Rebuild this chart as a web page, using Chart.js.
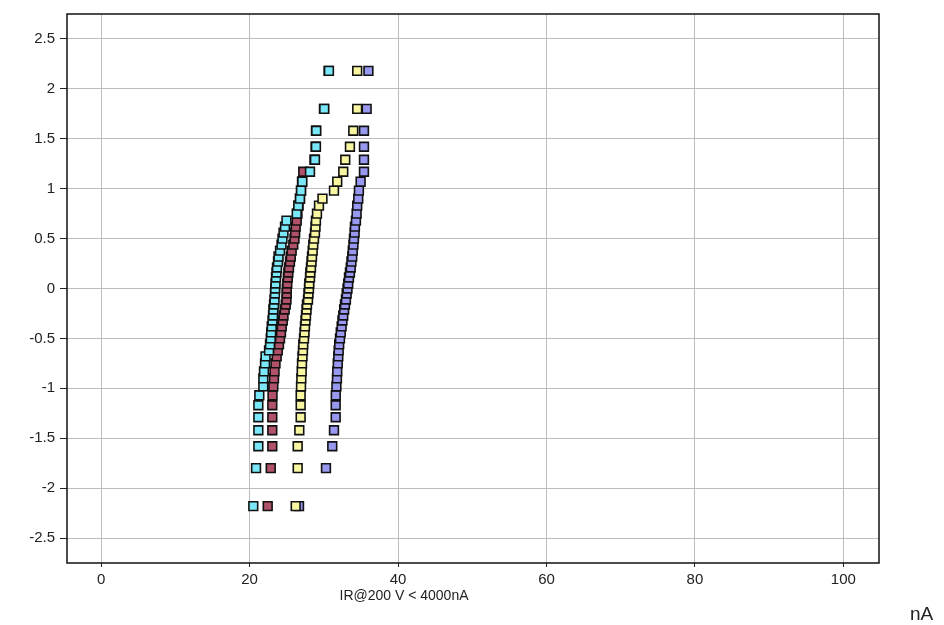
<!DOCTYPE html>
<html>
<head>
<meta charset="utf-8">
<title>IR@200 V probability plot</title>
<script src="https://cdn.jsdelivr.net/npm/chart.js@4.4.1/dist/chart.umd.min.js"></script>
<style>
  html, body { margin: 0; padding: 0; background: #fff; }
  #wrap { width: 944px; height: 625px; }
</style>
</head>
<body>
<div id="wrap"><canvas id="irChart" width="944" height="625"></canvas></div>
<script>
// normal score of each rank (47 parts per lot), shared by all lots
const zScores = [
    -2.18, -1.80, -1.58, -1.42, -1.29, -1.17, -1.07, -0.98, -0.90, -0.83,
    -0.75, -0.68, -0.62, -0.56, -0.50, -0.44, -0.38, -0.32, -0.27, -0.21,
    -0.16, -0.11, -0.05, 0.00, 0.05, 0.11, 0.16, 0.21, 0.27, 0.32,
    0.38, 0.44, 0.50, 0.56, 0.62, 0.68, 0.75, 0.83, 0.90, 0.98,
    1.07, 1.17, 1.29, 1.42, 1.58, 1.80, 2.18
];

// leakage current (nA), sorted, one list per lot
const lotCyan = [
    20.50, 20.87, 21.18, 21.18, 21.18, 21.18, 21.31, 21.85, 21.85, 21.94,
    22.08, 22.15, 22.62, 22.75, 22.85, 22.91, 22.98, 23.09, 23.16, 23.20,
    23.29, 23.36, 23.42, 23.45, 23.49, 23.56, 23.62, 23.69, 23.83, 23.90,
    24.10, 24.30, 24.43, 24.57, 24.77, 24.97, 26.35, 26.56, 26.79, 26.93,
    27.10, 28.14, 28.81, 28.94, 28.98, 30.06, 30.69
];
const lotMaroon = [
    22.44, 22.85, 23.06, 23.06, 23.06, 23.06, 23.09, 23.20, 23.29, 23.36,
    23.49, 23.65, 23.80, 23.96, 24.10, 24.23, 24.33, 24.47, 24.57, 24.73,
    24.87, 24.97, 25.00, 25.01, 25.08, 25.15, 25.22, 25.31, 25.44, 25.55,
    25.67, 25.89, 26.05, 26.14, 26.21, 26.35, 26.45, 26.59, 26.79, 26.93,
    27.06, 27.23, 28.74, 28.90, 28.94, 30.02, 30.65
];
const lotYellow = [
    26.21, 26.48, 26.48, 26.70, 26.88, 26.88, 26.88, 26.93, 26.97, 27.02,
    27.06, 27.13, 27.19, 27.23, 27.33, 27.40, 27.46, 27.53, 27.60, 27.67,
    27.73, 27.87, 27.93, 28.00, 28.04, 28.14, 28.18, 28.27, 28.34, 28.41,
    28.50, 28.58, 28.68, 28.81, 28.88, 28.94, 29.08, 29.35, 29.82, 31.37,
    31.81, 32.62, 32.89, 33.52, 33.97, 34.50, 34.50
];
const lotBlue = [
    26.66, 30.29, 31.14, 31.37, 31.60, 31.60, 31.61, 31.70, 31.77, 31.81,
    31.88, 31.95, 32.00, 32.07, 32.18, 32.28, 32.40, 32.51, 32.62, 32.74,
    32.85, 32.98, 33.08, 33.19, 33.29, 33.39, 33.52, 33.63, 33.72, 33.83,
    33.90, 33.99, 34.06, 34.15, 34.19, 34.33, 34.42, 34.50, 34.64, 34.73,
    34.96, 35.41, 35.41, 35.41, 35.41, 35.77, 36.01
];

const xTicks = [0, 20, 40, 60, 80, 100];
const yTicks = [-2.5, -2, -1.5, -1, -0.5, 0, 0.5, 1, 1.5, 2, 2.5];

const xTitle = 'IR@200 V < 4000nA';
const unitText = 'nA';

const FONT = '"Liberation Sans", Arial, sans-serif';

function toPoints(xs) {
    return xs.map((x, i) => ({ x: x, y: zScores[i] }));
}

function lot(xs, fill) {
    return {
        data: toPoints(xs),
        showLine: false,
        pointStyle: 'rect',
        pointRadius: 6.2,
        pointHoverRadius: 6.2,
        backgroundColor: fill,
        borderColor: '#111',
        borderWidth: 1.6
    };
}

// box around the plot area plus the two loose captions under it
const framePlugin = {
    id: 'frame',
    beforeDatasetsDraw(chart) {
        const { ctx, chartArea: a } = chart;
        ctx.save();
        ctx.strokeStyle = '#111';
        ctx.lineWidth = 1.5;
        ctx.strokeRect(a.left, a.top, a.right - a.left, a.bottom - a.top);
        ctx.restore();
    },
    afterDraw(chart) {
        const ctx = chart.ctx;
        ctx.save();
        ctx.fillStyle = '#222';
        ctx.textBaseline = 'middle';
        ctx.font = '14px ' + FONT;
        ctx.textAlign = 'center';
        ctx.fillText(xTitle, 404, 596);
        ctx.font = '19px ' + FONT;
        ctx.textAlign = 'left';
        ctx.fillText(unitText, 910, 615);
        ctx.restore();
    }
};

const ctx = document.getElementById('irChart').getContext('2d');
new Chart(ctx, {
    type: 'scatter',
    data: {
        datasets: [
            lot(lotCyan, 'rgb(122, 232, 248)'),
            lot(lotMaroon, 'rgb(176, 82, 106)'),
            lot(lotYellow, 'rgb(248, 246, 160)'),
            lot(lotBlue, 'rgb(152, 152, 240)')
        ]
    },
    options: {
        responsive: false,
        animation: false,
        layout: { padding: { left: 0, right: 65, top: 6, bottom: 0 } },
        plugins: {
            legend: { display: false },
            tooltip: { enabled: false }
        },
        scales: {
            x: {
                type: 'linear',
                min: -4.6,
                max: 104.8,
                afterFit: (scale) => { scale.height = 62; },
                afterBuildTicks: (scale) => { scale.ticks = xTicks.map(v => ({ value: v })); },
                border: { display: false },
                grid: {
                    color: '#bdbdbd',
                    lineWidth: 1,
                    tickColor: '#222',
                    tickLength: 4
                },
                ticks: {
                    padding: 4,
                    color: '#222',
                    font: { family: FONT, size: 15 },
                    callback: (v) => String(v)
                }
            },
            y: {
                type: 'linear',
                min: -2.75,
                max: 2.75,
                afterFit: (scale) => { scale.width = 67; },
                afterBuildTicks: (scale) => { scale.ticks = yTicks.map(v => ({ value: v })); },
                border: { display: false },
                grid: {
                    color: '#bdbdbd',
                    lineWidth: 1,
                    tickColor: '#222',
                    tickLength: 7
                },
                ticks: {
                    padding: 5,
                    color: '#222',
                    font: { family: FONT, size: 15 },
                    callback: (v) => String(v)
                }
            }
        }
    },
    plugins: [framePlugin]
});
</script>
</body>
</html>
